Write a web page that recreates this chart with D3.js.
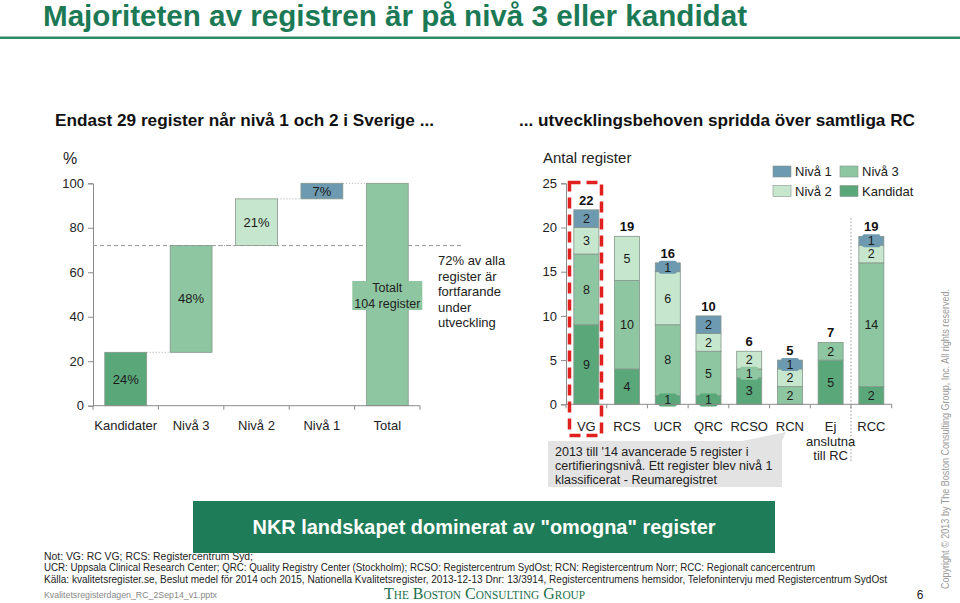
<!DOCTYPE html>
<html><head><meta charset="utf-8">
<script src="https://cdn.jsdelivr.net/npm/d3@7/dist/d3.min.js"></script>
<style>
html,body{margin:0;padding:0;background:#fff;}
svg{display:block;font-family:"Liberation Sans",Arial,sans-serif;}
.narrow{font-family:"Liberation Sans Narrow","Arial Narrow","Liberation Sans",sans-serif;}
</style></head>
<body>
<svg id="c" width="960" height="603"></svg>
<script>
// ---------- data ----------
const leftCats = ["Kandidater","Nivå 3","Nivå 2","Nivå 1","Total"];
const leftValues = [24,48,21,7,100];
const leftLabels = ["24%","48%","21%","7%",""];
const leftTicks = [0,20,40,60,80,100];
const leftRef = 72;

const rightCats = ["VG","RCS","UCR","QRC","RCSO","RCN","Ej anslutna till RC","RCC"];
const kandidat = [9,4,1,1,3,0,5,2];
const niva3    = [8,10,8,5,1,2,2,14];
const niva2    = [3,5,6,2,2,2,0,2];
const niva1    = [2,0,1,2,0,1,0,1];
const rightTicks = [0,5,10,15,20,25];
const seriesNames = ["Kandidat","Nivå 3","Nivå 2","Nivå 1"];

const C = {kand:"#5aa87a", n3:"#8dc6a0", n2:"#c6e6cd", n1:"#6d9ab0", stroke:"#86968c", axis:"#8a8a8a", green:"#1b7a55"};
const seriesColors = [C.kand, C.n3, C.n2, C.n1];

const svg = d3.select("#c");

// ---------- header ----------
svg.append("text").attr("class","narrow").attr("x",43).attr("y",26)
  .attr("font-size",29).attr("font-weight","bold").attr("fill",C.green)
  .attr("textLength",704).attr("lengthAdjust","spacingAndGlyphs")
  .text("Majoriteten av registren är på nivå 3 eller kandidat");
svg.append("rect").attr("x",0).attr("y",36.5).attr("width",960).attr("height",2.5).attr("fill","#2e8a64");

svg.append("text").attr("class","narrow").attr("x",55).attr("y",126)
  .attr("font-size",17).attr("font-weight","bold").attr("fill","#111")
  .attr("textLength",379).attr("lengthAdjust","spacingAndGlyphs")
  .text("Endast 29 register når nivå 1 och 2 i Sverige ...");
svg.append("text").attr("class","narrow").attr("x",519).attr("y",126)
  .attr("font-size",17).attr("font-weight","bold").attr("fill","#111")
  .attr("textLength",396).attr("lengthAdjust","spacingAndGlyphs")
  .text("... utvecklingsbehoven spridda över samtliga RC");

// ---------- left waterfall ----------
const ly = d3.scaleLinear().domain([0,100]).range([405.7,183.3]);
const lx = d3.scaleBand().domain(leftCats).range([93,420]).padding(0);
const lbw = lx.bandwidth()*0.64;
let cum = 0;
const lbars = leftCats.map((c,i)=>{
  let y0, y1;
  if (i === leftCats.length-1) { y0 = 0; y1 = leftValues[i]; }
  else { y0 = cum; y1 = cum + leftValues[i]; cum = y1; }
  return {c, y0, y1, label:leftLabels[i], color: i===0?C.kand : i===1?C.n3 : i===2?C.n2 : i===3?C.n1 : C.n3};
});

const lg = svg.append("g");
lg.append("text").attr("x",70).attr("y",164).attr("text-anchor","middle").attr("font-size",16).attr("fill","#222").text("%");

const yAxL = d3.axisLeft(ly).tickValues(leftTicks).tickSize(5).tickPadding(4);
const gyl = lg.append("g").attr("transform","translate(93,0)").call(yAxL);
gyl.selectAll("path,line").attr("stroke",C.axis);
gyl.selectAll("text").attr("font-size",13).attr("fill","#222").attr("font-family","Liberation Sans, Arial, sans-serif");

lg.append("line").attr("x1",93).attr("x2",463).attr("y1",ly(leftRef)).attr("y2",ly(leftRef))
  .attr("stroke","#999").attr("stroke-width",1).attr("stroke-dasharray","4,3");

for (let i=0;i<lbars.length-1;i++){
  const a = lbars[i], b = lbars[i+1];
  lg.append("line")
    .attr("x1",lx(a.c)+lx.bandwidth()/2+lbw/2).attr("x2",lx(b.c)+lx.bandwidth()/2-lbw/2)
    .attr("y1",ly(a.y1)).attr("y2",ly(a.y1))
    .attr("stroke","#aaa").attr("stroke-width",1).attr("stroke-dasharray","1,2");
}

lg.selectAll("rect.lb").data(lbars).join("rect").attr("class","lb")
  .attr("x",d=>lx(d.c)+lx.bandwidth()/2-lbw/2).attr("width",lbw)
  .attr("y",d=>ly(d.y1)).attr("height",d=>ly(d.y0)-ly(d.y1))
  .attr("fill",d=>d.color).attr("stroke",C.stroke).attr("stroke-width",0.8);

lg.selectAll("text.lv").data(lbars.filter(d=>d.label)).join("text").attr("class","lv")
  .attr("x",d=>lx(d.c)+lx.bandwidth()/2).attr("y",d=>ly((d.y0+d.y1)/2)+4.5)
  .attr("text-anchor","middle").attr("font-size",13).attr("fill","#1a1a1a").text(d=>d.label);

lg.append("line").attr("x1",93).attr("x2",420).attr("y1",ly(0)).attr("y2",ly(0)).attr("stroke",C.axis);
const ledges = leftCats.map(c=>lx(c)).concat([lx.range()[1]]);
lg.selectAll("line.lt").data(ledges).join("line").attr("class","lt")
  .attr("x1",d=>d).attr("x2",d=>d).attr("y1",ly(0)).attr("y2",ly(0)+4).attr("stroke",C.axis);
lg.selectAll("text.lc").data(leftCats).join("text").attr("class","lc")
  .attr("x",d=>lx(d)+lx.bandwidth()/2).attr("y",430).attr("text-anchor","middle")
  .attr("font-size",13).attr("fill","#222").text(d=>d);

const tot = lbars[lbars.length-1];
const tcx = lx(tot.c)+lx.bandwidth()/2;
lg.append("rect").attr("x",tcx-35).attr("y",281).attr("width",70).attr("height",29).attr("fill",C.n3);
lg.append("text").attr("x",tcx).attr("y",292).attr("text-anchor","middle").attr("font-size",12.5).attr("fill","#222").text("Totalt");
lg.append("text").attr("x",tcx).attr("y",307.5).attr("text-anchor","middle").attr("font-size",12.5).attr("fill","#222").text("104 register");

const noteLines = ["72% av alla","register är","fortfarande","under","utveckling"];
lg.selectAll("text.nl").data(noteLines).join("text").attr("class","nl")
  .attr("x",438).attr("y",(d,i)=>265+i*15.5).attr("font-size",13).attr("fill","#222").text(d=>d);

// ---------- right stacked chart ----------
const ry = d3.scaleLinear().domain([0,25]).range([404.3,183.3]);
const rx = d3.scaleBand().domain(rightCats).range([566,891.7]).padding(0);
const rbw = rx.bandwidth()*0.615;
const rows = rightCats.map((c,i)=>({c, Kandidat:kandidat[i], "Nivå 3":niva3[i], "Nivå 2":niva2[i], "Nivå 1":niva1[i]}));
const stack = d3.stack().keys(seriesNames)(rows);

const rg = svg.append("g");
rg.append("text").attr("x",543).attr("y",163).attr("font-size",15).attr("fill","#222").text("Antal register");

const yAxR = d3.axisLeft(ry).tickValues(rightTicks).tickSize(5).tickPadding(4);
const gyr = rg.append("g").attr("transform","translate(566,0)").call(yAxR);
gyr.selectAll("path,line").attr("stroke",C.axis);
gyr.selectAll("text").attr("font-size",13).attr("fill","#222").attr("font-family","Liberation Sans, Arial, sans-serif");

const cx = c => rx(c)+rx.bandwidth()/2;
stack.forEach((layer,li)=>{
  rg.selectAll("rect.s"+li).data(layer.filter(d=>d[1]>d[0])).join("rect").attr("class","s"+li)
    .attr("x",d=>cx(d.data.c)-rbw/2).attr("width",rbw)
    .attr("y",d=>ry(d[1])).attr("height",d=>ry(d[0])-ry(d[1]))
    .attr("fill",seriesColors[li]).attr("stroke",C.stroke).attr("stroke-width",0.8);
});
stack.forEach((layer,li)=>{
  const segs = layer.filter(d=>d[1]>d[0]);
  rg.selectAll("rect.bg"+li).data(segs.filter(d=>d[1]-d[0]===1)).join("rect").attr("class","bg"+li)
    .attr("x",d=>cx(d.data.c)-rbw*0.36).attr("width",rbw*0.72)
    .attr("y",d=>ry((d[0]+d[1])/2)-6.5).attr("height",13).attr("rx",2)
    .attr("fill",seriesColors[li]);
  rg.selectAll("text.t"+li).data(segs).join("text").attr("class","t"+li)
    .attr("x",d=>cx(d.data.c)).attr("y",d=>ry((d[0]+d[1])/2)+4.3)
    .attr("text-anchor","middle").attr("font-size",12.5).attr("fill","#1a1a1a").text(d=>d[1]-d[0]);
});
rg.selectAll("text.tot").data(rows).join("text").attr("class","tot")
  .attr("x",d=>cx(d.c)).attr("y",(d,i)=>ry(kandidat[i]+niva3[i]+niva2[i]+niva1[i])-5)
  .attr("text-anchor","middle").attr("font-size",13).attr("font-weight","bold").attr("fill","#111")
  .text((d,i)=>kandidat[i]+niva3[i]+niva2[i]+niva1[i]);

rg.append("line").attr("x1",566).attr("x2",891.7).attr("y1",ry(0)).attr("y2",ry(0)).attr("stroke",C.axis);
const redges = rightCats.map(c=>rx(c)).concat([rx.range()[1]]);
rg.selectAll("line.rt").data(redges).join("line").attr("class","rt")
  .attr("x1",d=>d).attr("x2",d=>d).attr("y1",ry(0)).attr("y2",ry(0)+4).attr("stroke",C.axis);

const sepX = rx("RCC");
rg.append("line").attr("x1",sepX).attr("x2",sepX).attr("y1",218).attr("y2",462)
  .attr("stroke","#999").attr("stroke-width",1).attr("stroke-dasharray","1.5,2");

const cg = rg.append("g");
cg.append("polygon").attr("points","742,441 782,441 786,432").attr("fill","#e3e3e3");
cg.append("rect").attr("x",548).attr("y",441).attr("width",234).attr("height",46).attr("fill","#e3e3e3");
const callLines = ["2013 till '14 avancerade 5 register i","certifieringsnivå. Ett register blev nivå 1","klassificerat - Reumaregistret"];
cg.selectAll("text").data(callLines).join("text")
  .attr("x",555).attr("y",(d,i)=>456+i*13.8).attr("font-size",12.5).attr("fill","#222").text(d=>d);

rightCats.forEach(c=>{
  const lines = c==="Ej anslutna till RC" ? ["Ej","anslutna","till RC"] : [c];
  lines.forEach((t,i)=>{
    rg.append("text").attr("x",cx(c)).attr("y",431+i*14.5).attr("text-anchor","middle")
      .attr("font-size",13).attr("fill","#222").text(t);
  });
});

rg.append("rect").attr("x",569.5).attr("y",182.5).attr("width",32).attr("height",253)
  .attr("fill","none").attr("stroke","#e0201e").attr("stroke-width",3.5).attr("stroke-dasharray","11,6");

const legend = [
  {n:"Nivå 1", c:C.n1, x:773, y:166},
  {n:"Nivå 3", c:C.n3, x:840, y:166},
  {n:"Nivå 2", c:C.n2, x:773, y:185.5},
  {n:"Kandidat", c:C.kand, x:840, y:185.5}
];
legend.forEach(d=>{
  rg.append("rect").attr("x",d.x).attr("y",d.y).attr("width",18).attr("height",11)
    .attr("fill",d.c).attr("stroke",C.stroke).attr("stroke-width",0.6);
  rg.append("text").attr("x",d.x+22).attr("y",d.y+10).attr("font-size",13).attr("fill","#222").text(d.n);
});

// ---------- footer ----------
const foot = [
  {t:"Not: VG: RC VG; RCS: Registercentrum Syd;", y:560, w:209},
  {t:"UCR: Uppsala Clinical Research Center; QRC: Quality Registry Center (Stockholm); RCSO: Registercentrum SydOst; RCN: Registercentrum Norr; RCC: Regionalt cancercentrum", y:570.5, w:771},
  {t:"Källa: kvalitetsregister.se, Beslut medel för 2014 och 2015, Nationella Kvalitetsregister, 2013-12-13 Dnr: 13/3914, Registercentrumens hemsidor, Telefonintervju med Registercentrum SydOst", y:582.5, w:843}
];
foot.forEach(f=>{
  svg.append("text").attr("class","narrow").attr("x",44).attr("y",f.y).attr("font-size",10.5).attr("fill","#222")
    .attr("textLength",f.w).attr("lengthAdjust","spacingAndGlyphs").text(f.t);
});
svg.append("rect").attr("x",193).attr("y",501).attr("width",582).attr("height",52).attr("fill","#1e7d58");
svg.append("text").attr("class","narrow").attr("x",484).attr("y",534).attr("text-anchor","middle")
  .attr("font-size",20).attr("font-weight","bold").attr("fill","#fff")
  .attr("textLength",463).attr("lengthAdjust","spacingAndGlyphs")
  .text('NKR landskapet dominerat av "omogna" register');

svg.append("text").attr("class","narrow").attr("x",44).attr("y",598).attr("font-size",9.5).attr("fill","#888")
  .attr("textLength",173).attr("lengthAdjust","spacingAndGlyphs").text("Kvalitetsregisterdagen_RC_2Sep14_v1.pptx");
svg.append("text").attr("x",384).attr("y",599).attr("font-family","Liberation Serif, Times New Roman, serif")
  .attr("font-size",17).attr("font-variant","small-caps").attr("fill","#1c6e4c")
  .attr("textLength",201).attr("lengthAdjust","spacingAndGlyphs").text("The Boston Consulting Group");
svg.append("text").attr("x",920).attr("y",599).attr("text-anchor","middle").attr("font-size",12).attr("fill","#222").text("6");

svg.append("text").attr("transform","translate(949,439) rotate(-90)").attr("text-anchor","middle")
  .attr("font-size",10).attr("fill","#9a9a9a").attr("textLength",300).attr("lengthAdjust","spacingAndGlyphs")
  .text("Copyright © 2013 by The Boston Consulting Group, Inc. All rights reserved.");
</script>
</body></html>
